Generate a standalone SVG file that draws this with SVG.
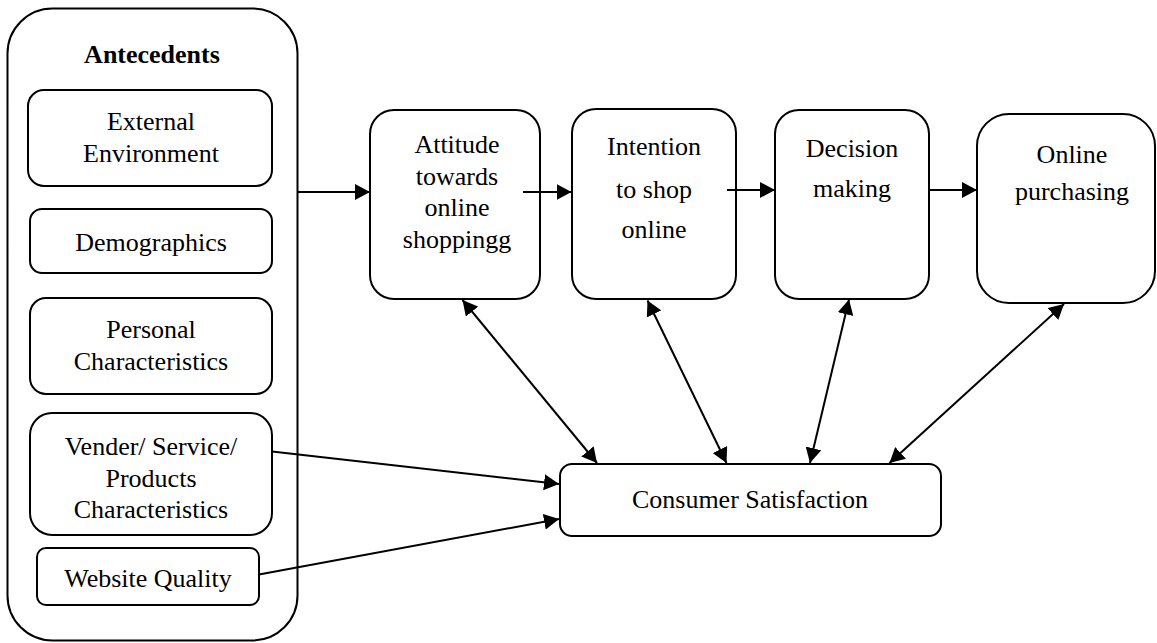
<svg xmlns="http://www.w3.org/2000/svg" width="1157" height="643" viewBox="0 0 1157 643">
<style>
  .box { fill: #ffffff; stroke: #000000; stroke-width: 2; }
  .t { font-family: "Liberation Serif", "Times New Roman", serif; font-size: 26px; fill: #000000; text-anchor: middle; }
  .b { font-weight: bold; }
  .ln { stroke: #000000; stroke-width: 2; fill: none; }
</style>
<defs>
  <marker id="ah" viewBox="0 0 15 16" refX="15" refY="8" markerWidth="15" markerHeight="16" markerUnits="userSpaceOnUse" orient="auto-start-reverse">
    <path d="M0,0 L15,8 L0,16 Z" fill="#000000"/>
  </marker>
</defs>
<rect width="1157" height="643" fill="#ffffff"/>

<g id="antecedents">
  <rect class="box" x="7.5" y="8.5" width="290" height="632" rx="45" ry="45"/>
  <text class="t b" x="152" y="63" font-size="27">Antecedents</text>
</g>
<g id="external-environment">
  <rect class="box" x="28" y="90" width="244" height="96" rx="16" ry="16"/>
  <text class="t" x="151" y="130">External</text>
  <text class="t" x="151" y="162">Environment</text>
</g>
<g id="demographics">
  <rect class="box" x="30" y="209" width="242" height="64" rx="12" ry="12"/>
  <text class="t" x="151" y="251">Demographics</text>
</g>
<g id="personal-characteristics">
  <rect class="box" x="30" y="298" width="242" height="96" rx="16" ry="16"/>
  <text class="t" x="151" y="338">Personal</text>
  <text class="t" x="151" y="370">Characteristics</text>
</g>
<g id="vender-characteristics">
  <rect class="box" x="30" y="413" width="242" height="122" rx="22" ry="22"/>
  <text class="t" x="151" y="455">Vender/ Service/</text>
  <text class="t" x="151" y="487">Products</text>
  <text class="t" x="151" y="518">Characteristics</text>
</g>
<g id="website-quality">
  <rect class="box" x="37" y="548" width="222" height="57" rx="9" ry="9"/>
  <text class="t" x="148" y="587">Website Quality</text>
</g>

<g id="attitude">
  <rect class="box" x="370" y="110" width="170" height="189" rx="24" ry="24"/>
  <text class="t" x="457" y="153">Attitude</text>
  <text class="t" x="457" y="185">towards</text>
  <text class="t" x="457" y="216">online</text>
  <text class="t" x="457" y="248">shoppingg</text>
</g>
<g id="intention">
  <rect class="box" x="572" y="109" width="164" height="190" rx="24" ry="24"/>
  <text class="t" x="654" y="155">Intention</text>
  <text class="t" x="654" y="198">to shop</text>
  <text class="t" x="654" y="238">online</text>
</g>
<g id="decision">
  <rect class="box" x="775" y="110" width="154" height="189" rx="24" ry="24"/>
  <text class="t" x="852" y="157">Decision</text>
  <text class="t" x="852" y="197">making</text>
</g>
<g id="online-purchasing">
  <rect class="box" x="977" y="114" width="178" height="189" rx="32" ry="32"/>
  <text class="t" x="1072" y="163">Online</text>
  <text class="t" x="1072" y="200">purchasing</text>
</g>
<g id="consumer-satisfaction">
  <rect class="box" x="560" y="464" width="381" height="72" rx="12" ry="12"/>
  <text class="t" x="750" y="508">Consumer Satisfaction</text>
</g>

<g id="connectors">
  <line class="ln" x1="298" y1="192" x2="370" y2="192" marker-end="url(#ah)"/>
  <line class="ln" x1="523" y1="192" x2="571.5" y2="192" marker-end="url(#ah)"/>
  <line class="ln" x1="727" y1="190" x2="775" y2="190" marker-end="url(#ah)"/>
  <line class="ln" x1="929" y1="190" x2="977" y2="190" marker-end="url(#ah)"/>
  <line class="ln" x1="462.5" y1="300" x2="597" y2="463" marker-start="url(#ah)" marker-end="url(#ah)"/>
  <line class="ln" x1="647.5" y1="300.5" x2="726.5" y2="463" marker-start="url(#ah)" marker-end="url(#ah)"/>
  <line class="ln" x1="849" y1="299.5" x2="810" y2="463" marker-start="url(#ah)" marker-end="url(#ah)"/>
  <line class="ln" x1="1064" y1="304" x2="889.5" y2="463" marker-start="url(#ah)" marker-end="url(#ah)"/>
  <line class="ln" x1="272" y1="451.5" x2="559" y2="484" marker-end="url(#ah)"/>
  <line class="ln" x1="259" y1="574.5" x2="559" y2="519" marker-end="url(#ah)"/>
</g>
</svg>
